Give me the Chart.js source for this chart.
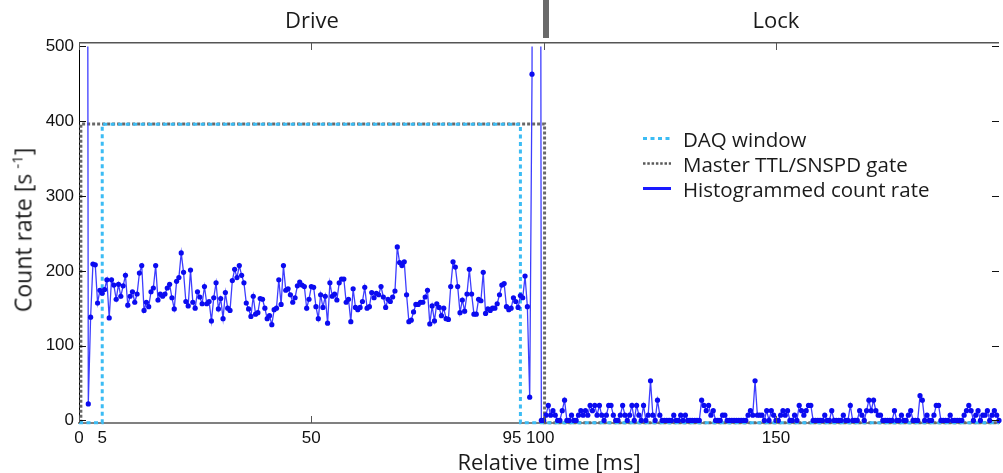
<!DOCTYPE html>
<html>
<head>
<meta charset="utf-8">
<script src="https://cdn.jsdelivr.net/npm/chart.js@4"></script>
<style>
html,body{margin:0;padding:0;background:#fff;}
#wrap{position:relative;width:1003px;height:473px;overflow:hidden;font-family:"Open Sans",sans-serif;color:#1a1a1a;}
canvas{position:absolute;left:0;top:0;}
.lbl{position:absolute;transform:translate(-50%,-50%);white-space:nowrap;line-height:1;}
#tab{position:absolute;left:543px;top:0;width:6px;height:38px;background:#6a6a6a;}
#ytitle{position:absolute;left:22px;top:230px;transform:translate(-50%,-50%) rotate(-90deg);white-space:nowrap;font-size:23px;line-height:1;}
#ytitle sup{font-size:15px;vertical-align:9px;margin-left:5px;}
#legend{position:absolute;left:643px;top:126px;font-size:20.5px;}
#legend .row{display:flex;align-items:center;height:25px;}
#legend svg{margin-right:12px;display:block;}
</style>
</head>
<body>
<div id="wrap">
<canvas id="c" width="1003" height="473"></canvas>
<div id="tab"></div>
<div class="lbl" style="left:312px;top:19px;font-size:22px;">Drive</div>
<div class="lbl" style="left:776px;top:19px;font-size:22px;">Lock</div>
<div id="ytitle">Count rate [s<sup>-1</sup>]</div>
<div class="lbl" style="left:549px;top:461px;font-size:22px;">Relative time [ms]</div>
<div id="legend">
  <div class="row"><svg width="28" height="25"><line x1="0" y1="12.5" x2="28" y2="12.5" stroke="#3cbcf4" stroke-width="3" stroke-dasharray="4 3.5"/></svg><span>DAQ window</span></div>
  <div class="row"><svg width="28" height="25"><line x1="0" y1="12.5" x2="28" y2="12.5" stroke="#5a5a5a" stroke-width="2.5" stroke-dasharray="2.5 1.8"/></svg><span>Master TTL/SNSPD gate</span></div>
  <div class="row"><svg width="28" height="25"><line x1="0" y1="12.5" x2="28" y2="12.5" stroke="#1a1aff" stroke-width="3"/></svg><span>Histogrammed count rate</span></div>
</div>
</div>
<script>
// ---- data ----
const binWidth = 0.5;      // ms per histogram bin
const driveStart = 1.5;    // ms, first drive bin
const lockStart = 100;     // ms, first lock bin

// count rate [1/s] during Drive, 1.5 .. 99.5 ms (values > 500 are off-scale)
const driveRates = [
  2400, 22,
  138, 209, 208, 157, 174, 170, 175, 188, 137, 188,
  181, 162, 182, 166, 180, 194, 154, 166, 172, 158,
  169, 197, 207, 147, 158, 152, 172, 177, 207, 161,
  169, 166, 169, 177, 182, 164, 149, 186, 191, 224,
  198, 159, 153, 201, 158, 150, 172, 165, 156, 179,
  156, 159, 133, 164, 184, 149, 163, 136, 171, 150,
  147, 187, 202, 191, 207, 194, 184, 157, 149, 139,
  166, 142, 144, 163, 162, 150, 136, 140, 128, 148,
  150, 188, 155, 207, 174, 176, 168, 158, 164, 180,
  185, 181, 179, 150, 162, 179, 178, 152, 136, 168,
  151, 166, 130, 184, 166,
  169, 161, 184, 189, 189, 158, 162, 132, 176, 151,
  148, 151, 159, 178, 150, 152, 171, 164, 170, 168,
  179, 165, 151, 162, 159, 165, 173, 232, 211, 207,
  212, 168, 132, 134, 145, 155, 155, 158, 158, 165, 174,
  129, 153, 133, 156, 151, 140, 150, 136, 135, 179,
  212, 205, 179, 144, 161, 146, 169, 202, 169, 142,
  142, 162, 160, 198, 143, 149, 147, 150, 150, 156,
  168, 181, 183, 152, 148, 150, 164, 159, 151, 167,
  164, 193, 152,
  31, 463, 2400, 2400, 2400, 0
];

// count rate [1/s] during Lock, 100 .. 198 ms
const lockRates = [
  0, 7, 20, 7, 13, 7, 0, 0, 13, 27,
  0, 0, 7, 0, 0, 7, 13, 7, 13, 7,
  20, 13, 20, 7, 20, 7, 0, 7, 20, 20,
  7, 0, 0, 7, 20, 7, 0, 7, 20, 0,
  20, 7, 0, 20, 0, 7, 53, 7, 0, 27,
  7, 0, 0, 0, 0, 0, 7, 0, 0, 7,
  0, 7, 0, 0, 0, 0, 0, 0, 27, 20,
  13, 20, 7, 13, 0, 0, 0, 7, 7, 0,
  0, 0, 0, 0, 0, 0, 0, 0, 7, 13,
  7, 53, 7, 7, 7, 0, 13, 0, 13, 7,
  0, 0, 7, 13, 7, 13, 0, 0, 7, 0,
  20, 13, 7, 13, 20, 20, 0, 0, 0, 0,
  0, 7, 0, 0, 13, 0, 0, 0, 0, 7,
  0, 0, 20, 0, 0, 0, 13, 7, 0, 13,
  27, 13, 27, 13, 7, 7, 0, 0, 0, 0,
  0, 13, 0, 0, 7, 0, 0, 7, 13, 0,
  0, 0, 33, 27, 0, 7, 0, 0, 7, 20,
  20, 0, 0, 0, 0, 7, 0, 0, 0, 0,
  0, 7, 13, 20, 13, 0, 7, 13, 0, 7,
  7, 13, 0, 7, 13, 7, 0
];

// DAQ window trace
const daqTimes  = [0, 5, 5, 95, 95, 198];
const daqLevels = [-3, -3, 396, 396, -3, -3];

// Master TTL / SNSPD gate trace
const gateTimes  = [0.4, 0.4, 100.2, 100.2, 198];
const gateLevels = [-3, 396.5, 396.5, -3, -3];

// axes
const xTickValues = [0, 5, 50, 95, 100, 150];
const xTickLabels = ['0', '5', '50', '95\u2002\u2002', '100\u2009\u2009', '150'];
const xMarkValues = [0, 50, 100, 150];
const yTickValues = [0, 100, 200, 300, 400, 500];
const yTickLabels = ['0', '100', '200', '300', '400', '500'];
const xRange = [0, 198];
const yRange = [-3.5, 506];
const yClipTop = 500;

// ---- build ----
const rateData = driveRates.map((v, i) => ({x: driveStart + i * binWidth, y: v}))
  .concat(lockRates.map((v, i) => ({x: lockStart + i * binWidth, y: v})));
const daqData = daqTimes.map((t, i) => ({x: t, y: daqLevels[i]}));
const gateData = gateTimes.map((t, i) => ({x: t, y: gateLevels[i]}));

const framePlugin = {
  id: 'frame',
  afterDatasetsDraw(chart) {
    const {ctx, chartArea: a, scales: {x, y}} = chart;
    ctx.save();
    ctx.strokeStyle = '#555';
    ctx.lineWidth = 1.5;
    ctx.beginPath();
    ctx.moveTo(a.left, a.top + 0.75);
    ctx.lineTo(a.right, a.top + 0.75);
    ctx.stroke();
    ctx.lineWidth = 1;
    ctx.strokeStyle = '#111';
    yTickValues.forEach(v => {
      const py = Math.round(y.getPixelForValue(v)) + 0.5;
      ctx.beginPath();
      ctx.moveTo(a.left, py); ctx.lineTo(a.left + 7, py);
      ctx.moveTo(a.right, py); ctx.lineTo(a.right - 7, py);
      ctx.stroke();
    });
    ctx.strokeStyle = '#555';
    xMarkValues.forEach(v => {
      const px = Math.round(x.getPixelForValue(v)) + 0.5;
      ctx.beginPath();
      ctx.moveTo(px, a.top); ctx.lineTo(px, a.top + 8);
      ctx.moveTo(px, a.bottom); ctx.lineTo(px, a.bottom - 7);
      ctx.stroke();
    });
    ctx.restore();
  }
};

const clipTopPlugin = {
  id: 'clipTop',
  beforeDatasetDraw(chart, args) {
    const ds = chart.data.datasets[args.index];
    if (ds.yClipTop === undefined) return;
    const a = chart.chartArea;
    const top = chart.scales.y.getPixelForValue(ds.yClipTop);
    const ctx = chart.ctx;
    ctx.save();
    ctx.beginPath();
    ctx.rect(a.left - 5, top, a.right - a.left + 10, a.bottom - top + 6);
    ctx.clip();
  },
  afterDatasetDraw(chart, args) {
    const ds = chart.data.datasets[args.index];
    if (ds.yClipTop === undefined) return;
    chart.ctx.restore();
  }
};

Chart.defaults.font.family = '"Liberation Sans", Arial, sans-serif';
Chart.defaults.font.size = 17;
Chart.defaults.color = '#111';

new Chart(document.getElementById('c'), {
  type: 'line',
  data: {
    datasets: [
      {
        label: 'Histogrammed count rate',
        data: rateData,
        borderColor: '#3d3dff',
        borderWidth: 1.3,
        pointRadius: 2.6,
        pointBorderWidth: 0,
        pointBackgroundColor: '#0b0bf0',
        tension: 0,
        clip: {left: 5, right: 5, bottom: 5, top: 0},
        yClipTop: yClipTop
      },
      {
        label: 'DAQ window',
        data: daqData,
        borderColor: '#3cbcf4',
        borderWidth: 3,
        borderDash: [4, 3.5],
        borderCapStyle: 'butt',
        pointRadius: 0,
        tension: 0,
        clip: 4
      },
      {
        label: 'Master TTL/SNSPD gate',
        data: gateData,
        borderColor: '#686868',
        borderWidth: 3,
        borderDash: [3, 2],
        borderCapStyle: 'butt',
        pointRadius: 0,
        tension: 0,
        clip: 4
      }
    ]
  },
  options: {
    responsive: false,
    animation: false,
    devicePixelRatio: 1,
    parsing: false,
    layout: {padding: {top: 42, right: 0, bottom: 0, left: 0}},
    plugins: {legend: {display: false}, tooltip: {enabled: false}},
    scales: {
      x: {
        type: 'linear',
        min: xRange[0], max: xRange[1],
        grid: {display: false, drawTicks: false},
        border: {display: true, color: '#808080', width: 2},
        afterBuildTicks: s => { s.ticks = xTickValues.map(v => ({value: v})); },
        afterFit: s => { s.height = 50; },
        ticks: {
          autoSkip: false, maxRotation: 0, padding: 5,
          callback: (v) => xTickLabels[xTickValues.indexOf(v)]
        }
      },
      y: {
        type: 'linear',
        min: yRange[0], max: yRange[1],
        grid: {display: false, drawTicks: false},
        border: {display: true, color: '#000', width: 1},
        afterBuildTicks: s => { s.ticks = yTickValues.map(v => ({value: v})); },
        afterFit: s => { s.width = 79; },
        ticks: {
          autoSkip: false, padding: 5,
          callback: (v) => yTickLabels[yTickValues.indexOf(v)]
        }
      }
    }
  },
  plugins: [framePlugin, clipTopPlugin]
});
</script>
</body>
</html>
